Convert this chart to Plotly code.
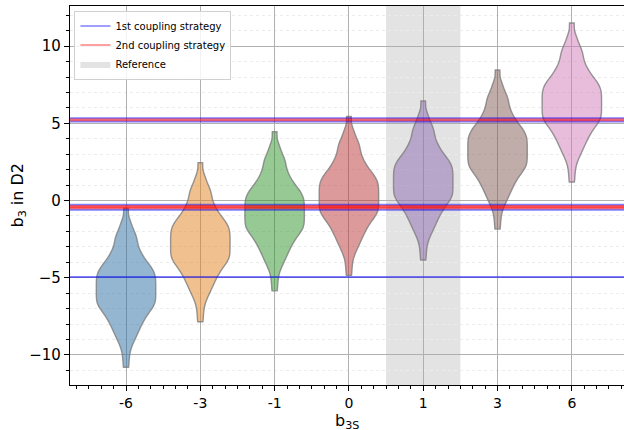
import plotly.graph_objects as go

# Categories (b_3S) and violin centres
categories = ["-6", "-3", "-1", "0", "1", "3", "6"]
centers = [-6.0, -3.05, -1.05, -0.05, 0.95, 2.95, 6.0]

# Shared spread of the b_3 distribution around each centre
spread = [5.5, 4.75, 4.4, 4.1, 3.9, 3.72, 3.55, 3.42, 3.25, 3.08,
          2.94, 2.81, 2.68, 2.55, 2.45, 2.35, 2.25, 2.15, 2.05,
          1.96, 1.89, 1.82, 1.75, 1.68, 1.61, 1.54,
          1.47, 1.41, 1.35, 1.29, 1.23, 1.17, 1.11, 1.05, 0.99, 0.93, 0.87, 0.81,
          0.75, 0.69, 0.63, 0.57, 0.51, 0.45, 0.39, 0.33, 0.27, 0.21, 0.15, 0.09,
          0.03, -0.03, -0.09, -0.15, -0.21, -0.27, -0.33, -0.39, -0.45, -0.51,
          -0.57, -0.63, -0.69, -0.75, -0.81, -0.87, -0.93, -0.99,
          -1.06, -1.14, -1.22, -1.3, -1.38, -1.46,
          -1.54, -1.64, -1.74, -1.84, -1.94,
          -2.06, -2.18, -2.3, -2.42, -2.58, -2.74, -2.9,
          -3.1, -3.35, -3.7, -4.2, -4.8]

# Horizontal reference levels
strategy1_levels = [5.33, 5.12, -0.28, -0.6, -4.95]
strategy2_levels = [5.22, -0.38, -0.48]
reference_index = 4  # category "1"

violin_colors = ["rgba(41,109,161,0.5)", "rgba(225,129,31,0.5)", "rgba(45,147,41,0.5)",
                 "rgba(187,53,53,0.5)", "rgba(139,105,175,0.5)", "rgba(129,89,81,0.5)",
                 "rgba(209,121,183,0.5)"]

FONT = "DejaVu Sans"
fig = go.Figure()

for i, (cat, c) in enumerate(zip(categories, centers)):
    fig.add_trace(go.Violin(
        x=[i] * len(spread), y=[c + s for s in spread],
        name=cat, showlegend=False, hoverinfo="skip",
        fillcolor=violin_colors[i], line=dict(color="rgba(125,125,125,0.8)", width=1.4),
        box_visible=False, meanline_visible=False, points=False,
        spanmode="hard", bandwidth=0.34, width=0.8, scalemode="width",
    ))

# Reference shading
fig.add_shape(type="rect", xref="x", yref="paper", x0=reference_index - 0.5, x1=reference_index + 0.5,
              y0=0, y1=1, fillcolor="#e3e3e3", line_width=0, layer="below")

for y in strategy1_levels:
    fig.add_shape(type="line", xref="paper", yref="y", x0=0, x1=1, y0=y, y1=y,
                  line=dict(color="rgba(0,0,255,0.5)", width=2), layer="above")
for y in strategy2_levels:
    fig.add_shape(type="line", xref="paper", yref="y", x0=0, x1=1, y0=y, y1=y,
                  line=dict(color="rgba(255,0,0,0.55)", width=2.8), layer="above")

# Legend entries
fig.add_trace(go.Scatter(x=[None], y=[None], mode="lines", name="1st coupling strategy",
                         line=dict(color="rgba(0,0,255,0.5)", width=1.5)))
fig.add_trace(go.Scatter(x=[None], y=[None], mode="lines", name="2nd coupling strategy",
                         line=dict(color="rgba(255,0,0,0.5)", width=1.5)))
fig.add_trace(go.Scatter(x=[None], y=[None], mode="lines", name="Reference", fill="toself",
                         fillcolor="#e3e3e3", line=dict(color="#e3e3e3", width=0)))

fig.update_layout(
    width=624, height=430,
    margin=dict(l=70, r=0, t=6, b=45, autoexpand=False),
    plot_bgcolor="white", paper_bgcolor="white",
    font=dict(family=FONT, color="black"),
    legend=dict(x=0.008, y=0.988, xanchor="left", yanchor="top",
                bgcolor="rgba(255,255,255,0.85)", bordercolor="#d0d0d0", borderwidth=1,
                font=dict(size=10, family=FONT), tracegroupgap=0, itemwidth=30),
    showlegend=True,
    annotations=[
        dict(text="b<sub>3S</sub>", xref="paper", yref="paper", x=0.5, y=0,
             xanchor="center", yanchor="top", yshift=-24, showarrow=False,
             font=dict(size=16, family=FONT)),
        dict(text="b<sub>3</sub> in D2", xref="paper", yref="paper", x=0, y=0.5,
             xanchor="center", yanchor="middle", xshift=-52, textangle=-90, showarrow=False,
             font=dict(size=16, family=FONT)),
    ],
)
fig.update_xaxes(
    range=[-0.754, 6.702], tickvals=list(range(len(categories))), ticktext=categories,
    automargin=False,
    showgrid=True, gridcolor="#b0b0b0", gridwidth=1, zeroline=False,
    showline=True, linecolor="black", linewidth=1.2, mirror=True,
    ticks="outside", ticklen=5, tickcolor="black", tickfont=dict(size=14),
    minor=dict(dtick=1/6, tick0=0, ticks="outside", ticklen=3, tickcolor="black", showgrid=False),
)
fig.update_yaxes(
    range=[-11.95, 12.6], tickvals=[-10, -5, 0, 5, 10],
    ticktext=["\u221210", "\u22125", "0", "5", "10"],
    automargin=False,
    showgrid=True, gridcolor="#b0b0b0", gridwidth=1, zeroline=False,
    showline=True, linecolor="black", linewidth=1.2,
    ticks="outside", ticklen=5, tickcolor="black", tickfont=dict(size=15),
    minor=dict(dtick=1, tick0=0, ticks="outside", ticklen=3, tickcolor="black",
               showgrid=True, gridcolor="#ececec", griddash="dot", gridwidth=1),
)

fig.write_html("out.html", config={"displayModeBar": False},
               post_script="document.body.style.margin='0';")
